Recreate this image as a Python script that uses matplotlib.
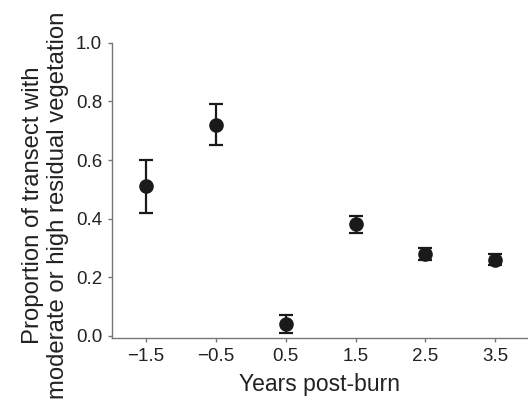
import matplotlib
matplotlib.use("Agg")
import matplotlib.pyplot as plt

plt.rcParams['font.family'] = ['Liberation Sans', 'DejaVu Sans']

years = [-1.5, -0.5, 0.5, 1.5, 2.5, 3.5]
proportion = [0.51, 0.72, 0.04, 0.38, 0.28, 0.26]
lower = [0.42, 0.65, 0.01, 0.35, 0.26, 0.24]
upper = [0.60, 0.79, 0.07, 0.41, 0.30, 0.28]
xtick_labels = ['\u22121.5', '\u22120.5', '0.5', '1.5', '2.5', '3.5']
yticks = [0.0, 0.2, 0.4, 0.6, 0.8, 1.0]

err_lo = [p - l for p, l in zip(proportion, lower)]
err_hi = [u - p for p, u in zip(proportion, upper)]

fig = plt.figure(figsize=(5.28, 4.01), dpi=100)
ax = fig.add_axes([0.212, 0.157, 0.788, 0.736])

ax.errorbar(years, proportion, yerr=[err_lo, err_hi], fmt='o', color='#1a1a1a',
            markersize=9.5, elinewidth=1.6, capsize=5, capthick=1.6)

ax.set_xlim(-1.99, 3.97)
ax.set_ylim(-0.008, 1.0)
ax.set_xticks(years)
ax.set_xticklabels(xtick_labels)
ax.set_yticks(yticks)
ax.set_yticklabels([f'{v:.1f}' for v in yticks])

for side in ('top', 'right'):
    ax.spines[side].set_visible(False)
for side in ('left', 'bottom'):
    ax.spines[side].set_color('#777777')
    ax.spines[side].set_linewidth(1.0)

ax.tick_params(axis='both', direction='out', length=3, width=1.0, color='#777777',
               labelsize=13.5, labelcolor='#222222', pad=4)

ax.set_xlabel('Years post-burn', fontsize=16.5, color='#222222', labelpad=6)
ax.set_ylabel('Proportion of transect with\nmoderate or high residual vegetation',
              fontsize=17.2, color='#222222', linespacing=1.2)
ax.yaxis.set_label_coords(-0.102, 0.45)

fig.savefig('out.png', dpi=100)
